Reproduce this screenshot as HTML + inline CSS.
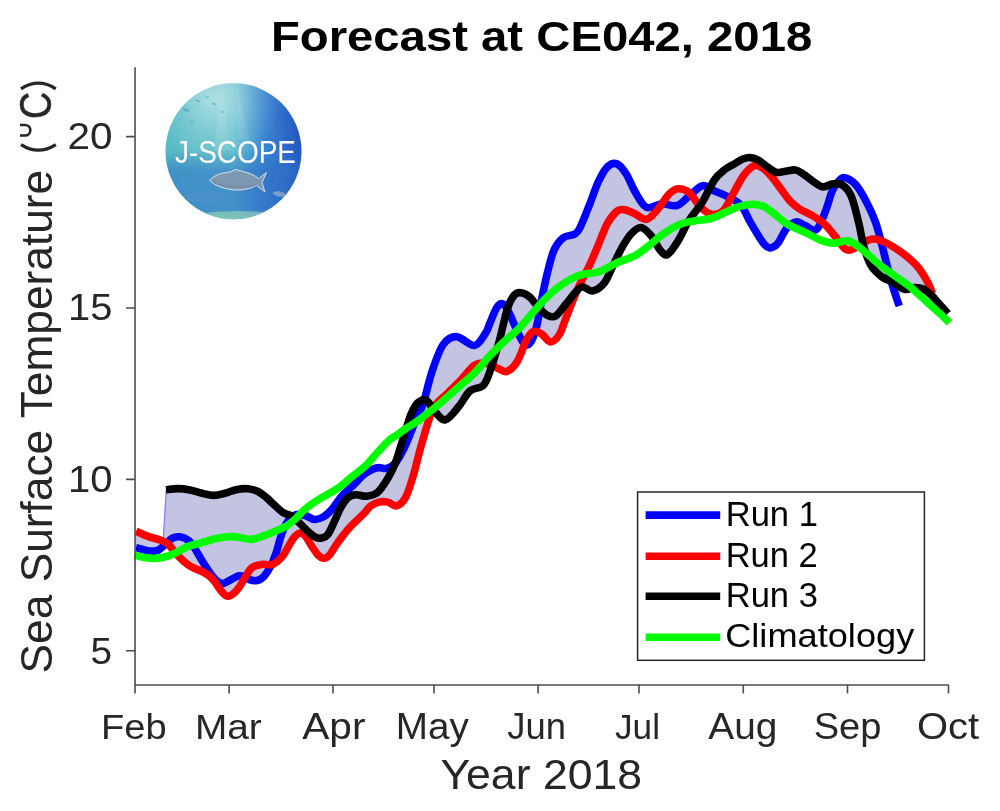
<!DOCTYPE html>
<html><head><meta charset="utf-8">
<style>
html,body{margin:0;padding:0;background:#fff;}
body{width:1000px;height:811px;overflow:hidden;}
svg{display:block;will-change:transform;}
text{font-family:"Liberation Sans", sans-serif;}
</style></head>
<body>
<svg width="1000" height="811" viewBox="0 0 1000 811">
<defs>
  <linearGradient id="lgBase" x1="165" y1="0" x2="302" y2="0" gradientUnits="userSpaceOnUse">
    <stop offset="0" stop-color="#56bac4"/>
    <stop offset="0.5" stop-color="#62c0cc"/>
    <stop offset="0.72" stop-color="#3a86d0"/>
    <stop offset="1" stop-color="#2354c2"/>
  </linearGradient>
  <radialGradient id="lgTop" cx="215" cy="98" r="66" gradientUnits="userSpaceOnUse">
    <stop offset="0" stop-color="#ffffff" stop-opacity="0.5"/>
    <stop offset="0.6" stop-color="#ffffff" stop-opacity="0.16"/>
    <stop offset="1" stop-color="#ffffff" stop-opacity="0"/>
  </radialGradient>
  <linearGradient id="lgBot" x1="0" y1="150" x2="0" y2="220" gradientUnits="userSpaceOnUse">
    <stop offset="0" stop-color="#2f6fc8" stop-opacity="0"/>
    <stop offset="0.3" stop-color="#2f6fc8" stop-opacity="0.55"/>
    <stop offset="0.85" stop-color="#2f70c8" stop-opacity="0.6"/>
    <stop offset="1" stop-color="#5aa8b0" stop-opacity="0.7"/>
  </linearGradient>
  <clipPath id="logoclip"><circle cx="233.5" cy="151.2" r="68"/></clipPath>
  <clipPath id="plotclip"><rect x="133" y="67" width="820" height="620"/></clipPath>
</defs>
<rect x="0" y="0" width="1000" height="811" fill="#fff"/>

<!-- title -->
<g transform="translate(274.20,51.10) scale(1.0004,0.9966) translate(-274.00,-51.10) translate(274.20,51.10) scale(1.0004,1.0320) translate(-275.00,-51.10) translate(274.20,51.10) scale(1.1811,1.0357) translate(-315.00,-51.00)"><text x="541.7" y="51" font-size="40" font-weight="bold" text-anchor="middle" fill="#000">Forecast at CE042, 2018</text></g>

<!-- logo -->
<g>
  <circle cx="233.5" cy="151.2" r="68" fill="url(#lgBase)"/>
  <circle cx="233.5" cy="151.2" r="68" fill="url(#lgTop)"/>
  <circle cx="233.5" cy="151.2" r="68" fill="url(#lgBot)"/>
  <g clip-path="url(#logoclip)">
    <path d="M222,80 L214,150 L230,150 Z" fill="#ffffff" opacity="0.10"/>
    <path d="M236,80 L238,140 L250,140 Z" fill="#ffffff" opacity="0.08"/>
    
    <ellipse cx="238" cy="216" rx="40" ry="5" fill="#9ad6b8" opacity="0.6"/>
    <ellipse cx="205" cy="197" rx="22" ry="5" fill="#6fa9cf" opacity="0.15"/>
    <g fill="#2f8f9a" opacity="0.45">
      <ellipse cx="186" cy="110" rx="3.5" ry="1.2" transform="rotate(20 186 110)"/>
      <ellipse cx="198" cy="101" rx="2.5" ry="0.9" transform="rotate(15 198 101)"/>
      <ellipse cx="207" cy="97" rx="2" ry="0.8"/>
      <ellipse cx="214" cy="104" rx="2.2" ry="0.8" transform="rotate(20 214 104)"/>
      <ellipse cx="192" cy="122" rx="2" ry="0.8"/>
      <ellipse cx="222" cy="112" rx="1.8" ry="0.7"/>
    </g>
    <g fill="none" stroke="#5f8fd8" stroke-width="0.8" opacity="0.3">
      <circle cx="272" cy="128" r="2.5"/><circle cx="280" cy="136" r="2"/><circle cx="266" cy="140" r="2.2"/>
      <circle cx="286" cy="172" r="2.5"/><circle cx="276" cy="178" r="2"/><circle cx="290" cy="160" r="1.8"/>
    </g>
  </g>
  <path d="M209.5,180.5 C213,176 220,173 230,172 L236,169.5 L243,171.5 C250,173 255,175.5 258.5,178.5 L266.5,172.5 L262,182.5 L265,192 L256.5,185.5 C252,188 246,190 238,190 C226,190 215,186 209.5,180.5Z" fill="#7f98b2" stroke="#dce8f0" stroke-width="0.9"/>
  <path d="M213,182 C225,187 243,188 256,185" fill="none" stroke="#6f88a2" stroke-width="2.2" opacity="0.55"/>
  <path d="M272,193 C277,190 283,191 287,195 C282,198 276,197 272,193Z" fill="#8fa8c4" opacity="0.8"/>
  <text x="235.4" y="163.3" font-size="31" fill="#fff" text-anchor="middle" textLength="121" lengthAdjust="spacingAndGlyphs">J-SCOPE</text>
</g>

<!-- fill -->
<g clip-path="url(#plotclip)">
<path d="M136.0,531.2 L137.0,531.6 L138.0,532.1 L139.0,532.6 L140.0,533.0 L141.0,533.5 L142.0,533.9 L143.0,534.4 L144.0,534.8 L145.0,535.2 L146.0,535.6 L147.0,536.0 L148.0,536.4 L149.0,536.8 L150.0,537.1 L151.0,537.4 L152.0,537.7 L153.0,537.9 L154.0,538.2 L155.0,538.5 L156.0,538.7 L157.0,539.0 L158.0,539.3 L159.0,539.6 L160.0,540.0 L161.0,540.4 L162.0,540.7 L163.0,541.1 L163.2,541.2 L166.0,489.8 L167.0,489.7 L168.0,489.5 L169.0,489.4 L170.0,489.3 L171.0,489.1 L172.0,489.0 L173.0,488.9 L174.0,488.8 L175.0,488.7 L176.0,488.7 L177.0,488.6 L178.0,488.6 L179.0,488.6 L180.0,488.7 L181.0,488.7 L182.0,488.8 L183.0,488.9 L184.0,489.0 L185.0,489.2 L186.0,489.3 L187.0,489.5 L188.0,489.6 L189.0,489.8 L190.0,490.0 L191.0,490.2 L192.0,490.5 L193.0,490.7 L194.0,491.0 L195.0,491.3 L196.0,491.6 L197.0,491.9 L198.0,492.2 L199.0,492.5 L200.0,492.8 L201.0,493.1 L202.0,493.3 L203.0,493.5 L204.0,493.8 L205.0,494.0 L206.0,494.3 L207.0,494.5 L208.0,494.7 L209.0,494.9 L210.0,495.1 L211.0,495.2 L212.0,495.3 L213.0,495.4 L214.0,495.4 L215.0,495.4 L216.0,495.3 L217.0,495.1 L218.0,495.0 L219.0,494.8 L220.0,494.5 L221.0,494.3 L222.0,494.0 L223.0,493.7 L224.0,493.5 L225.0,493.2 L226.0,492.9 L227.0,492.6 L228.0,492.3 L229.0,491.9 L230.0,491.6 L231.0,491.2 L232.0,490.8 L233.0,490.5 L234.0,490.2 L235.0,489.9 L236.0,489.6 L237.0,489.4 L238.0,489.2 L239.0,489.1 L240.0,488.9 L241.0,488.8 L242.0,488.7 L243.0,488.7 L244.0,488.6 L245.0,488.6 L246.0,488.7 L247.0,488.7 L248.0,488.8 L249.0,488.9 L250.0,489.1 L251.0,489.2 L252.0,489.4 L253.0,489.7 L254.0,490.0 L255.0,490.3 L256.0,490.6 L257.0,491.0 L258.0,491.5 L259.0,492.0 L260.0,492.6 L261.0,493.2 L262.0,493.9 L263.0,494.7 L264.0,495.5 L265.0,496.3 L266.0,497.2 L267.0,498.0 L268.0,498.9 L269.0,499.8 L270.0,500.8 L271.0,501.7 L272.0,502.7 L273.0,503.6 L274.0,504.6 L275.0,505.5 L276.0,506.5 L277.0,507.4 L278.0,508.3 L279.0,509.3 L280.0,510.1 L281.0,511.0 L282.0,511.8 L283.0,512.5 L284.0,513.2 L285.0,513.7 L286.0,514.1 L287.0,514.4 L288.0,514.6 L289.0,514.9 L290.0,515.2 L291.0,515.8 L292.0,516.5 L293.0,516.0 L294.0,515.4 L295.0,514.9 L296.0,514.5 L297.0,514.3 L298.0,514.2 L299.0,514.2 L300.0,514.3 L301.0,514.5 L302.0,514.7 L303.0,515.0 L304.0,515.3 L305.0,515.6 L306.0,515.9 L307.0,516.2 L308.0,516.7 L309.0,517.2 L310.0,517.8 L311.0,518.3 L312.0,518.8 L313.0,519.2 L314.0,519.4 L315.0,519.5 L316.0,519.5 L317.0,519.4 L318.0,519.2 L319.0,518.9 L320.0,518.5 L321.0,518.1 L322.0,517.6 L323.0,517.1 L324.0,516.5 L325.0,515.8 L326.0,515.0 L327.0,514.2 L328.0,513.4 L329.0,512.4 L330.0,511.4 L331.0,510.4 L332.0,509.3 L333.0,508.0 L334.0,506.7 L335.0,505.2 L336.0,503.8 L337.0,502.3 L338.0,500.8 L339.0,499.5 L340.0,498.2 L341.0,497.0 L342.0,495.9 L343.0,494.9 L344.0,493.9 L345.0,492.9 L346.0,492.0 L347.0,491.0 L348.0,490.1 L349.0,489.2 L350.0,488.3 L351.0,487.4 L352.0,486.5 L353.0,485.5 L354.0,484.5 L355.0,483.5 L356.0,482.4 L357.0,481.4 L358.0,480.3 L359.0,479.2 L360.0,478.2 L361.0,477.2 L362.0,476.3 L363.0,475.4 L364.0,474.5 L365.0,473.8 L366.0,473.1 L367.0,472.4 L368.0,471.8 L369.0,471.2 L370.0,470.6 L371.0,470.1 L372.0,469.6 L373.0,469.2 L374.0,468.8 L375.0,468.4 L376.0,468.1 L377.0,467.8 L378.0,467.6 L379.0,467.6 L380.0,467.6 L381.0,467.8 L382.0,468.0 L383.0,468.2 L384.0,468.4 L385.0,468.6 L386.0,468.5 L387.0,468.4 L388.0,468.1 L389.0,467.8 L390.0,467.4 L391.0,466.9 L392.0,466.2 L393.0,465.5 L394.0,464.6 L395.0,463.6 L396.0,461.1 L397.0,458.2 L398.0,455.1 L399.0,451.9 L400.0,448.7 L401.0,445.5 L402.0,442.2 L403.0,438.9 L404.0,435.6 L405.0,432.3 L406.0,429.2 L407.0,426.0 L408.0,422.8 L409.0,419.7 L410.0,416.8 L411.0,414.3 L412.0,412.1 L413.0,410.0 L414.0,408.1 L415.0,406.4 L416.0,404.9 L417.0,403.7 L418.0,402.7 L419.0,401.9 L420.0,401.2 L421.0,400.7 L422.0,400.3 L423.0,400.0 L424.0,399.9 L425.0,397.3 L426.0,393.4 L427.0,389.5 L428.0,385.7 L429.0,381.9 L430.0,378.2 L431.0,374.8 L432.0,371.6 L433.0,368.6 L434.0,365.7 L435.0,362.8 L436.0,360.0 L437.0,357.4 L438.0,354.8 L439.0,352.4 L440.0,350.2 L441.0,348.2 L442.0,346.4 L443.0,344.8 L444.0,343.4 L445.0,342.2 L446.0,341.1 L447.0,340.1 L448.0,339.3 L449.0,338.6 L450.0,338.0 L451.0,337.6 L452.0,337.2 L453.0,336.9 L454.0,336.7 L455.0,336.6 L456.0,336.6 L457.0,336.6 L458.0,336.8 L459.0,337.2 L460.0,337.7 L461.0,338.2 L462.0,338.8 L463.0,339.5 L464.0,340.2 L465.0,340.9 L466.0,341.6 L467.0,342.3 L468.0,343.0 L469.0,343.6 L470.0,344.2 L471.0,344.7 L472.0,345.2 L473.0,345.4 L474.0,345.5 L475.0,345.4 L476.0,345.0 L477.0,344.4 L478.0,343.6 L479.0,342.6 L480.0,341.5 L481.0,340.1 L482.0,338.7 L483.0,337.1 L484.0,335.5 L485.0,333.9 L486.0,332.4 L487.0,330.6 L488.0,328.2 L489.0,325.4 L490.0,322.9 L491.0,320.5 L492.0,318.1 L493.0,315.6 L494.0,313.2 L495.0,310.9 L496.0,308.9 L497.0,307.3 L498.0,305.9 L499.0,304.9 L500.0,304.1 L501.0,303.7 L502.0,303.6 L503.0,303.9 L504.0,304.6 L505.0,305.6 L506.0,307.1 L507.0,308.8 L508.0,307.0 L509.0,304.3 L510.0,302.0 L511.0,300.0 L512.0,298.3 L513.0,296.8 L514.0,295.5 L515.0,294.4 L516.0,293.6 L517.0,293.1 L518.0,292.7 L519.0,292.6 L520.0,292.6 L521.0,292.7 L522.0,292.8 L523.0,293.1 L524.0,293.5 L525.0,293.9 L526.0,294.4 L527.0,295.0 L528.0,295.7 L529.0,296.4 L530.0,297.3 L531.0,298.3 L532.0,299.4 L533.0,300.6 L534.0,301.9 L535.0,303.2 L536.0,304.6 L537.0,305.8 L538.0,307.0 L539.0,308.0 L540.0,308.8 L541.0,303.0 L542.0,297.7 L543.0,292.7 L544.0,287.8 L545.0,283.1 L546.0,278.6 L547.0,274.5 L548.0,270.4 L549.0,266.4 L550.0,262.4 L551.0,258.8 L552.0,255.5 L553.0,252.6 L554.0,250.2 L555.0,248.1 L556.0,246.3 L557.0,244.6 L558.0,243.2 L559.0,241.9 L560.0,240.8 L561.0,239.7 L562.0,238.8 L563.0,237.9 L564.0,237.2 L565.0,236.7 L566.0,236.3 L567.0,236.0 L568.0,235.8 L569.0,235.6 L570.0,235.5 L571.0,235.3 L572.0,235.2 L573.0,234.9 L574.0,234.5 L575.0,233.9 L576.0,233.3 L577.0,232.5 L578.0,231.3 L579.0,229.6 L580.0,227.7 L581.0,225.6 L582.0,223.4 L583.0,221.0 L584.0,218.6 L585.0,216.1 L586.0,213.6 L587.0,211.1 L588.0,208.5 L589.0,206.0 L590.0,203.5 L591.0,200.8 L592.0,198.1 L593.0,195.3 L594.0,192.6 L595.0,189.9 L596.0,187.3 L597.0,184.8 L598.0,182.5 L599.0,180.4 L600.0,178.3 L601.0,176.4 L602.0,174.6 L603.0,172.8 L604.0,171.2 L605.0,169.8 L606.0,168.5 L607.0,167.3 L608.0,166.3 L609.0,165.5 L610.0,164.8 L611.0,164.2 L612.0,163.8 L613.0,163.5 L614.0,163.4 L615.0,163.4 L616.0,163.6 L617.0,163.9 L618.0,164.4 L619.0,165.1 L620.0,165.9 L621.0,167.0 L622.0,168.1 L623.0,169.4 L624.0,170.7 L625.0,172.2 L626.0,173.7 L627.0,175.3 L628.0,177.2 L629.0,179.2 L630.0,181.4 L631.0,183.5 L632.0,185.7 L633.0,187.8 L634.0,189.8 L635.0,191.7 L636.0,193.3 L637.0,195.0 L638.0,196.8 L639.0,198.5 L640.0,200.2 L641.0,201.8 L642.0,203.2 L643.0,204.4 L644.0,205.5 L645.0,206.4 L646.0,207.0 L647.0,207.4 L648.0,207.7 L649.0,207.7 L650.0,207.6 L651.0,207.4 L652.0,207.1 L653.0,206.8 L654.0,206.4 L655.0,206.0 L656.0,205.6 L657.0,205.2 L658.0,204.8 L659.0,204.4 L660.0,204.1 L661.0,203.9 L662.0,203.5 L663.0,202.1 L664.0,200.6 L665.0,199.2 L666.0,197.8 L667.0,196.5 L668.0,195.3 L669.0,194.2 L670.0,193.2 L671.0,192.3 L672.0,191.5 L673.0,190.7 L674.0,190.1 L675.0,189.6 L676.0,189.2 L677.0,188.9 L678.0,188.8 L679.0,188.7 L680.0,188.8 L681.0,188.9 L682.0,189.0 L683.0,189.3 L684.0,189.6 L685.0,190.0 L686.0,190.4 L687.0,191.0 L688.0,191.7 L689.0,192.4 L690.0,193.3 L691.0,194.4 L692.0,193.5 L693.0,192.6 L694.0,191.6 L695.0,190.7 L696.0,189.8 L697.0,188.9 L698.0,188.1 L699.0,187.3 L700.0,186.7 L701.0,186.2 L702.0,185.8 L703.0,185.6 L704.0,185.6 L705.0,185.8 L706.0,186.1 L707.0,186.5 L708.0,187.0 L709.0,187.6 L710.0,187.7 L711.0,185.7 L712.0,183.8 L713.0,182.1 L714.0,180.4 L715.0,179.0 L716.0,177.7 L717.0,176.5 L718.0,175.4 L719.0,174.4 L720.0,173.4 L721.0,172.6 L722.0,171.7 L723.0,171.0 L724.0,170.2 L725.0,169.4 L726.0,168.6 L727.0,168.0 L728.0,167.3 L729.0,166.8 L730.0,166.2 L731.0,165.7 L732.0,165.2 L733.0,164.7 L734.0,164.1 L735.0,163.5 L736.0,162.9 L737.0,162.3 L738.0,161.6 L739.0,161.0 L740.0,160.4 L741.0,159.8 L742.0,159.3 L743.0,158.9 L744.0,158.6 L745.0,158.2 L746.0,158.0 L747.0,157.8 L748.0,157.6 L749.0,157.6 L750.0,157.5 L751.0,157.6 L752.0,157.7 L753.0,158.0 L754.0,158.2 L755.0,158.6 L756.0,159.0 L757.0,159.4 L758.0,160.0 L759.0,160.5 L760.0,161.1 L761.0,161.8 L762.0,162.6 L763.0,163.4 L764.0,164.2 L765.0,165.0 L766.0,165.8 L767.0,166.6 L768.0,167.3 L769.0,168.0 L770.0,168.7 L771.0,169.4 L772.0,170.1 L773.0,170.8 L774.0,171.4 L775.0,171.8 L776.0,172.2 L777.0,172.4 L778.0,172.5 L779.0,172.5 L780.0,172.4 L781.0,172.2 L782.0,172.0 L783.0,171.8 L784.0,171.5 L785.0,171.3 L786.0,171.1 L787.0,170.9 L788.0,170.8 L789.0,170.6 L790.0,170.4 L791.0,170.2 L792.0,170.0 L793.0,169.9 L794.0,169.9 L795.0,169.9 L796.0,170.1 L797.0,170.4 L798.0,170.8 L799.0,171.3 L800.0,171.9 L801.0,172.6 L802.0,173.3 L803.0,174.0 L804.0,174.6 L805.0,175.3 L806.0,176.0 L807.0,176.7 L808.0,177.5 L809.0,178.2 L810.0,179.0 L811.0,179.8 L812.0,180.5 L813.0,181.3 L814.0,182.1 L815.0,182.8 L816.0,183.5 L817.0,184.2 L818.0,184.8 L819.0,185.4 L820.0,186.0 L821.0,186.4 L822.0,186.7 L823.0,186.9 L824.0,186.9 L825.0,186.8 L826.0,186.4 L827.0,186.0 L828.0,185.5 L829.0,185.0 L830.0,184.5 L831.0,184.2 L832.0,184.0 L833.0,183.9 L834.0,183.8 L835.0,183.7 L836.0,183.6 L837.0,183.1 L838.0,182.0 L839.0,180.8 L840.0,179.7 L841.0,178.7 L842.0,178.1 L843.0,177.7 L844.0,177.7 L845.0,177.8 L846.0,178.0 L847.0,178.4 L848.0,178.8 L849.0,179.3 L850.0,179.9 L851.0,180.5 L852.0,181.2 L853.0,182.0 L854.0,182.9 L855.0,183.9 L856.0,185.0 L857.0,186.2 L858.0,187.6 L859.0,189.0 L860.0,190.5 L861.0,192.2 L862.0,193.8 L863.0,195.6 L864.0,197.4 L865.0,199.2 L866.0,201.1 L867.0,203.0 L868.0,204.9 L869.0,206.9 L870.0,209.0 L871.0,211.1 L872.0,213.3 L873.0,215.7 L874.0,218.1 L875.0,220.7 L876.0,223.5 L877.0,226.6 L878.0,230.0 L879.0,233.7 L880.0,237.5 L881.0,240.7 L882.0,241.1 L883.0,241.6 L884.0,242.0 L885.0,242.5 L886.0,242.9 L887.0,243.4 L888.0,243.9 L889.0,244.4 L890.0,245.0 L891.0,245.5 L892.0,246.0 L893.0,246.6 L894.0,247.2 L895.0,247.8 L896.0,248.4 L897.0,249.1 L898.0,249.8 L899.0,250.5 L900.0,251.2 L901.0,251.9 L902.0,252.7 L903.0,253.5 L904.0,254.3 L905.0,255.0 L906.0,255.8 L907.0,256.6 L908.0,257.5 L909.0,258.3 L910.0,259.2 L911.0,260.1 L912.0,261.0 L913.0,261.9 L914.0,262.9 L915.0,263.9 L916.0,264.9 L917.0,266.0 L918.0,267.2 L919.0,268.5 L920.0,269.8 L921.0,271.2 L922.0,272.7 L923.0,274.2 L924.0,275.8 L925.0,277.5 L926.0,279.2 L927.0,281.1 L928.0,283.0 L929.0,285.0 L930.0,287.1 L931.0,289.5 L932.0,292.2 L932.0,295.7 L931.0,294.7 L930.0,293.8 L929.0,293.0 L928.0,292.1 L927.0,291.3 L926.0,290.6 L925.0,290.0 L924.0,289.4 L923.0,288.9 L922.0,288.5 L921.0,288.2 L920.0,287.9 L919.0,287.7 L918.0,287.6 L917.0,287.5 L916.0,287.5 L915.0,287.5 L914.0,287.5 L913.0,287.7 L912.0,288.0 L911.0,288.3 L910.0,288.7 L909.0,289.0 L908.0,289.3 L907.0,289.5 L906.0,289.5 L905.0,289.4 L904.0,289.1 L903.0,288.7 L902.0,288.2 L901.0,287.6 L900.0,287.0 L899.0,305.2 L898.0,302.3 L897.0,299.4 L896.0,296.5 L895.0,293.5 L894.0,290.5 L893.0,287.4 L892.0,284.0 L891.0,281.3 L890.0,280.8 L889.0,280.5 L888.0,280.1 L887.0,279.7 L886.0,279.4 L885.0,278.9 L884.0,278.3 L883.0,277.7 L882.0,276.9 L881.0,276.2 L880.0,275.4 L879.0,274.6 L878.0,273.7 L877.0,272.8 L876.0,271.8 L875.0,270.8 L874.0,269.7 L873.0,268.5 L872.0,267.1 L871.0,265.5 L870.0,263.7 L869.0,261.6 L868.0,259.3 L867.0,256.8 L866.0,253.9 L865.0,250.8 L864.0,247.5 L863.0,243.6 L862.0,243.9 L861.0,244.5 L860.0,245.2 L859.0,245.9 L858.0,246.5 L857.0,247.0 L856.0,247.5 L855.0,248.0 L854.0,248.4 L853.0,249.0 L852.0,249.4 L851.0,249.9 L850.0,250.1 L849.0,250.3 L848.0,250.2 L847.0,250.0 L846.0,249.5 L845.0,248.8 L844.0,247.9 L843.0,246.9 L842.0,245.7 L841.0,244.4 L840.0,243.1 L839.0,241.7 L838.0,240.3 L837.0,239.0 L836.0,237.6 L835.0,236.2 L834.0,235.0 L833.0,233.8 L832.0,232.6 L831.0,231.3 L830.0,230.0 L829.0,228.8 L828.0,227.7 L827.0,226.6 L826.0,225.5 L825.0,224.6 L824.0,223.7 L823.0,222.9 L822.0,222.1 L821.0,222.5 L820.0,224.6 L819.0,226.5 L818.0,228.0 L817.0,229.1 L816.0,229.9 L815.0,230.2 L814.0,230.2 L813.0,230.0 L812.0,229.6 L811.0,229.1 L810.0,228.6 L809.0,227.9 L808.0,227.3 L807.0,226.6 L806.0,226.1 L805.0,225.6 L804.0,225.2 L803.0,224.7 L802.0,224.1 L801.0,223.5 L800.0,222.9 L799.0,222.4 L798.0,222.1 L797.0,221.9 L796.0,221.9 L795.0,222.1 L794.0,222.4 L793.0,222.8 L792.0,223.4 L791.0,224.1 L790.0,224.9 L789.0,225.8 L788.0,226.8 L787.0,227.9 L786.0,229.2 L785.0,230.8 L784.0,232.5 L783.0,234.2 L782.0,236.1 L781.0,238.0 L780.0,239.8 L779.0,241.5 L778.0,243.0 L777.0,244.3 L776.0,245.3 L775.0,246.0 L774.0,246.5 L773.0,247.1 L772.0,247.5 L771.0,247.8 L770.0,247.9 L769.0,247.7 L768.0,247.2 L767.0,246.6 L766.0,245.9 L765.0,245.0 L764.0,244.0 L763.0,242.8 L762.0,241.5 L761.0,239.9 L760.0,238.3 L759.0,236.7 L758.0,235.1 L757.0,233.5 L756.0,231.9 L755.0,230.2 L754.0,228.5 L753.0,226.9 L752.0,225.2 L751.0,223.5 L750.0,221.7 L749.0,219.8 L748.0,217.8 L747.0,215.6 L746.0,213.5 L745.0,211.5 L744.0,209.6 L743.0,208.0 L742.0,206.6 L741.0,205.4 L740.0,204.3 L739.0,203.5 L738.0,202.7 L737.0,201.9 L736.0,201.3 L735.0,200.7 L734.0,200.1 L733.0,199.5 L732.0,199.0 L731.0,198.4 L730.0,199.7 L729.0,201.7 L728.0,203.6 L727.0,205.4 L726.0,207.1 L725.0,208.5 L724.0,209.8 L723.0,210.9 L722.0,211.8 L721.0,212.5 L720.0,213.0 L719.0,213.5 L718.0,213.8 L717.0,214.1 L716.0,214.3 L715.0,214.4 L714.0,214.4 L713.0,214.4 L712.0,214.3 L711.0,214.2 L710.0,214.0 L709.0,213.6 L708.0,213.2 L707.0,212.6 L706.0,212.0 L705.0,211.2 L704.0,210.4 L703.0,209.5 L702.0,208.6 L701.0,207.6 L700.0,206.6 L699.0,207.0 L698.0,208.4 L697.0,209.6 L696.0,210.9 L695.0,212.2 L694.0,213.4 L693.0,214.7 L692.0,216.1 L691.0,217.5 L690.0,218.9 L689.0,220.5 L688.0,222.1 L687.0,223.9 L686.0,225.8 L685.0,227.7 L684.0,229.7 L683.0,231.7 L682.0,233.7 L681.0,235.7 L680.0,237.6 L679.0,239.3 L678.0,241.0 L677.0,242.6 L676.0,244.2 L675.0,245.7 L674.0,247.2 L673.0,248.7 L672.0,250.0 L671.0,251.3 L670.0,252.5 L669.0,253.4 L668.0,254.2 L667.0,254.7 L666.0,254.9 L665.0,254.8 L664.0,254.3 L663.0,253.4 L662.0,252.4 L661.0,251.2 L660.0,250.0 L659.0,248.7 L658.0,247.1 L657.0,245.4 L656.0,243.6 L655.0,241.8 L654.0,240.0 L653.0,238.3 L652.0,236.8 L651.0,235.5 L650.0,234.3 L649.0,233.2 L648.0,232.1 L647.0,231.1 L646.0,230.1 L645.0,229.3 L644.0,228.6 L643.0,228.1 L642.0,227.7 L641.0,227.5 L640.0,227.5 L639.0,227.8 L638.0,228.2 L637.0,228.7 L636.0,229.4 L635.0,230.1 L634.0,231.0 L633.0,232.0 L632.0,233.0 L631.0,234.0 L630.0,235.1 L629.0,236.3 L628.0,237.7 L627.0,239.1 L626.0,240.7 L625.0,242.3 L624.0,244.0 L623.0,245.7 L622.0,247.5 L621.0,249.3 L620.0,251.2 L619.0,253.2 L618.0,255.3 L617.0,257.4 L616.0,259.5 L615.0,261.6 L614.0,263.7 L613.0,265.7 L612.0,267.8 L611.0,270.1 L610.0,272.4 L609.0,274.6 L608.0,276.8 L607.0,278.7 L606.0,280.5 L605.0,282.0 L604.0,283.3 L603.0,284.4 L602.0,285.4 L601.0,286.4 L600.0,287.2 L599.0,288.0 L598.0,288.7 L597.0,289.3 L596.0,289.8 L595.0,290.2 L594.0,290.6 L593.0,290.9 L592.0,291.1 L591.0,291.0 L590.0,290.6 L589.0,290.1 L588.0,289.5 L587.0,288.8 L586.0,288.1 L585.0,287.5 L584.0,287.1 L583.0,286.9 L582.0,286.9 L581.0,287.2 L580.0,287.7 L579.0,288.4 L578.0,289.3 L577.0,290.6 L576.0,293.0 L575.0,295.4 L574.0,297.8 L573.0,300.3 L572.0,302.8 L571.0,305.4 L570.0,307.9 L569.0,310.5 L568.0,313.0 L567.0,315.5 L566.0,318.1 L565.0,320.6 L564.0,323.3 L563.0,326.1 L562.0,328.9 L561.0,331.4 L560.0,333.5 L559.0,335.2 L558.0,336.6 L557.0,337.8 L556.0,338.9 L555.0,339.9 L554.0,340.6 L553.0,341.3 L552.0,341.7 L551.0,341.9 L550.0,341.8 L549.0,341.4 L548.0,340.6 L547.0,339.6 L546.0,338.5 L545.0,337.3 L544.0,336.1 L543.0,335.0 L542.0,334.2 L541.0,333.6 L540.0,333.0 L539.0,332.5 L538.0,332.0 L537.0,331.6 L536.0,331.4 L535.0,331.9 L534.0,334.8 L533.0,337.5 L532.0,339.8 L531.0,341.7 L530.0,343.2 L529.0,344.3 L528.0,344.8 L527.0,344.9 L526.0,344.6 L525.0,344.0 L524.0,345.5 L523.0,348.2 L522.0,350.9 L521.0,353.5 L520.0,356.0 L519.0,358.3 L518.0,360.2 L517.0,361.9 L516.0,363.3 L515.0,364.7 L514.0,365.9 L513.0,367.0 L512.0,368.0 L511.0,368.9 L510.0,369.7 L509.0,370.4 L508.0,371.0 L507.0,371.4 L506.0,371.6 L505.0,371.6 L504.0,371.4 L503.0,370.9 L502.0,370.4 L501.0,369.8 L500.0,369.3 L499.0,368.9 L498.0,368.5 L497.0,368.0 L496.0,367.6 L495.0,367.1 L494.0,366.6 L493.0,366.1 L492.0,365.6 L491.0,368.5 L490.0,371.3 L489.0,374.1 L488.0,376.9 L487.0,379.5 L486.0,381.6 L485.0,383.3 L484.0,384.6 L483.0,385.6 L482.0,386.3 L481.0,386.9 L480.0,387.3 L479.0,387.6 L478.0,387.8 L477.0,388.1 L476.0,388.3 L475.0,388.6 L474.0,388.8 L473.0,389.2 L472.0,389.6 L471.0,390.2 L470.0,390.9 L469.0,391.9 L468.0,393.0 L467.0,394.3 L466.0,395.7 L465.0,397.2 L464.0,398.8 L463.0,400.5 L462.0,402.0 L461.0,403.6 L460.0,405.0 L459.0,406.3 L458.0,407.5 L457.0,408.7 L456.0,409.9 L455.0,411.2 L454.0,412.4 L453.0,413.6 L452.0,414.7 L451.0,415.8 L450.0,416.8 L449.0,417.7 L448.0,418.5 L447.0,419.2 L446.0,419.7 L445.0,419.9 L444.0,419.8 L443.0,419.5 L442.0,419.0 L441.0,418.3 L440.0,417.3 L439.0,416.3 L438.0,415.1 L437.0,413.9 L436.0,412.8 L435.0,411.7 L434.0,410.5 L433.0,409.2 L432.0,411.0 L431.0,413.5 L430.0,416.4 L429.0,419.6 L428.0,422.8 L427.0,425.8 L426.0,429.0 L425.0,432.3 L424.0,435.7 L423.0,439.2 L422.0,442.7 L421.0,446.3 L420.0,449.9 L419.0,453.7 L418.0,457.6 L417.0,461.5 L416.0,465.5 L415.0,469.4 L414.0,473.1 L413.0,476.6 L412.0,479.9 L411.0,483.2 L410.0,486.3 L409.0,489.4 L408.0,492.1 L407.0,494.6 L406.0,496.7 L405.0,498.5 L404.0,500.0 L403.0,501.3 L402.0,502.4 L401.0,503.4 L400.0,504.1 L399.0,504.8 L398.0,505.3 L397.0,505.7 L396.0,505.9 L395.0,505.8 L394.0,505.5 L393.0,505.0 L392.0,504.4 L391.0,503.7 L390.0,503.1 L389.0,502.6 L388.0,502.2 L387.0,502.0 L386.0,501.8 L385.0,501.7 L384.0,501.6 L383.0,501.6 L382.0,501.6 L381.0,501.7 L380.0,501.9 L379.0,502.1 L378.0,502.4 L377.0,502.7 L376.0,503.1 L375.0,503.5 L374.0,504.0 L373.0,504.5 L372.0,505.1 L371.0,505.8 L370.0,506.5 L369.0,507.4 L368.0,508.5 L367.0,509.9 L366.0,511.3 L365.0,512.5 L364.0,513.5 L363.0,514.5 L362.0,515.5 L361.0,516.4 L360.0,517.4 L359.0,518.3 L358.0,519.2 L357.0,520.2 L356.0,521.1 L355.0,522.1 L354.0,523.0 L353.0,524.0 L352.0,525.0 L351.0,526.0 L350.0,527.1 L349.0,528.2 L348.0,529.3 L347.0,530.5 L346.0,531.8 L345.0,533.0 L344.0,534.3 L343.0,535.6 L342.0,536.9 L341.0,538.2 L340.0,539.5 L339.0,540.9 L338.0,542.3 L337.0,543.7 L336.0,545.1 L335.0,546.7 L334.0,548.3 L333.0,549.9 L332.0,551.5 L331.0,553.0 L330.0,554.4 L329.0,555.5 L328.0,556.5 L327.0,557.3 L326.0,557.8 L325.0,558.2 L324.0,558.3 L323.0,558.2 L322.0,558.0 L321.0,557.5 L320.0,556.8 L319.0,556.0 L318.0,555.0 L317.0,553.8 L316.0,552.5 L315.0,551.1 L314.0,549.6 L313.0,548.1 L312.0,546.6 L311.0,545.0 L310.0,543.3 L309.0,541.6 L308.0,539.9 L307.0,538.3 L306.0,536.9 L305.0,535.8 L304.0,534.8 L303.0,534.0 L302.0,533.4 L301.0,533.1 L300.0,533.0 L299.0,533.3 L298.0,533.8 L297.0,534.5 L296.0,535.4 L295.0,536.4 L294.0,537.5 L293.0,538.9 L292.0,540.5 L291.0,542.1 L290.0,543.8 L289.0,545.5 L288.0,547.3 L287.0,549.1 L286.0,550.9 L285.0,552.7 L284.0,554.2 L283.0,555.6 L282.0,556.9 L281.0,558.0 L280.0,559.1 L279.0,560.1 L278.0,561.0 L277.0,561.8 L276.0,562.6 L275.0,563.2 L274.0,563.8 L273.0,564.3 L272.0,564.6 L271.0,565.6 L270.0,567.5 L269.0,569.3 L268.0,571.0 L267.0,572.5 L266.0,573.9 L265.0,575.2 L264.0,576.4 L263.0,577.4 L262.0,578.3 L261.0,579.0 L260.0,579.5 L259.0,580.0 L258.0,580.3 L257.0,580.5 L256.0,580.7 L255.0,580.7 L254.0,580.6 L253.0,580.5 L252.0,580.4 L251.0,580.2 L250.0,579.9 L249.0,579.6 L248.0,579.1 L247.0,578.4 L246.0,577.5 L245.0,577.2 L244.0,579.0 L243.0,580.9 L242.0,582.7 L241.0,584.4 L240.0,585.9 L239.0,587.4 L238.0,588.7 L237.0,590.0 L236.0,591.1 L235.0,592.2 L234.0,593.1 L233.0,593.9 L232.0,594.7 L231.0,595.4 L230.0,595.9 L229.0,596.2 L228.0,596.3 L227.0,596.1 L226.0,595.6 L225.0,594.9 L224.0,594.0 L223.0,592.9 L222.0,591.8 L221.0,590.7 L220.0,589.4 L219.0,587.9 L218.0,586.4 L217.0,584.9 L216.0,583.5 L215.0,582.2 L214.0,580.9 L213.0,579.6 L212.0,578.5 L211.0,577.4 L210.0,576.5 L209.0,575.7 L208.0,574.9 L207.0,574.3 L206.0,573.6 L205.0,573.1 L204.0,572.5 L203.0,572.0 L202.0,571.5 L201.0,571.1 L200.0,570.6 L199.0,570.2 L198.0,569.8 L197.0,569.4 L196.0,569.0 L195.0,568.6 L194.0,568.2 L193.0,567.7 L192.0,567.2 L191.0,566.6 L190.0,566.0 L189.0,565.4 L188.0,564.7 L187.0,564.0 L186.0,563.2 L185.0,562.4 L184.0,561.6 L183.0,560.7 L182.0,559.8 L181.0,558.8 L180.0,557.9 L179.0,556.8 L178.0,555.8 L177.0,554.7 L176.0,553.6 L175.0,552.4 L174.0,551.2 L173.0,549.9 L172.0,548.6 L171.0,547.3 L170.0,546.0 L169.0,544.9 L168.0,544.0 L167.0,543.2 L166.0,543.7 L163.2,546.3 L163.0,546.5 L162.0,547.4 L161.0,548.3 L160.0,549.2 L159.0,549.8 L158.0,550.3 L157.0,550.6 L156.0,550.8 L155.0,551.0 L154.0,551.1 L153.0,551.1 L152.0,551.1 L151.0,551.1 L150.0,551.0 L149.0,550.9 L148.0,550.8 L147.0,550.6 L146.0,550.4 L145.0,550.2 L144.0,550.0 L143.0,549.7 L142.0,549.4 L141.0,549.1 L140.0,548.8 L139.0,548.5 L138.0,548.2 L137.0,547.9 L136.0,547.6Z" fill="#c3c3e2" stroke="#b0b8ee" stroke-width="0.8"/>
<path d="M166.4,489.5 L163.2,540" stroke="#7a7aff" stroke-width="1.1" fill="none"/>
<g fill="none" stroke-width="7.6" stroke-linejoin="round" stroke-linecap="butt">
<path d="M136.0,547.6 C138.0,548.1 144.4,550.3 148.0,550.8 C151.6,551.3 154.9,551.3 157.6,550.4 C160.3,549.5 161.6,547.6 164.0,545.6 C166.4,543.6 169.3,539.9 172.0,538.4 C174.7,536.9 177.2,536.4 180.0,536.8 C182.8,537.2 186.4,538.9 188.8,540.8 C191.2,542.7 192.2,544.5 194.5,548.0 C196.8,551.5 199.5,556.8 202.5,561.5 C205.5,566.2 209.6,572.6 212.3,576.0 C215.0,579.4 216.7,580.9 218.5,582.1 C220.3,583.3 221.3,583.8 223.4,583.4 C225.5,583.0 228.3,580.9 230.8,579.7 C233.3,578.5 235.9,576.5 238.2,576.0 C240.5,575.5 242.6,576.0 244.4,576.6 C246.2,577.2 247.2,579.1 249.3,579.7 C251.4,580.4 254.8,581.0 257.2,580.5 C259.6,580.0 261.6,578.9 263.8,576.6 C266.0,574.3 268.5,570.5 270.5,566.6 C272.5,562.7 274.2,558.5 276.0,553.3 C277.8,548.1 279.3,540.7 281.2,535.5 C283.1,530.3 284.8,525.4 287.3,521.9 C289.8,518.4 292.9,515.5 296.0,514.5 C299.1,513.5 302.7,515.0 305.8,515.8 C308.9,516.6 311.6,519.3 314.5,519.5 C317.4,519.7 320.2,518.6 323.1,517.0 C326.0,515.4 328.7,512.9 331.7,509.6 C334.7,506.3 337.4,501.0 341.0,497.0 C344.6,493.0 349.1,489.3 353.0,485.5 C356.9,481.7 360.7,476.9 364.7,474.0 C368.7,471.1 373.3,468.7 377.0,467.8 C380.7,466.9 383.8,469.2 386.9,468.4 C390.0,467.6 392.6,466.5 395.5,463.0 C398.4,459.5 401.9,452.7 404.5,447.4 C407.1,442.1 409.1,436.8 411.3,431.2 C413.6,425.6 416.1,418.0 418.0,413.6 C419.9,409.2 420.4,412.1 422.8,405.0 C425.2,397.9 428.8,381.1 432.2,371.0 C435.6,360.9 439.2,350.1 443.3,344.4 C447.4,338.7 451.4,336.4 456.6,336.6 C461.8,336.8 469.5,346.1 474.3,345.5 C479.1,344.9 482.8,337.1 485.4,333.3 C488.0,329.5 488.1,327.2 490.0,322.9 C491.9,318.6 494.7,310.6 496.9,307.4 C499.1,304.2 501.0,303.0 503.0,303.9 C505.0,304.8 506.9,308.5 509.0,312.5 C511.1,316.5 513.6,323.2 515.9,328.1 C518.2,333.0 520.5,339.3 522.8,341.9 C525.1,344.5 527.4,346.2 529.7,343.6 C532.0,341.0 534.6,333.9 536.6,326.4 C538.6,318.9 540.1,307.3 541.8,298.7 C543.5,290.1 545.0,282.6 547.0,274.5 C549.0,266.4 551.2,256.5 553.9,250.4 C556.6,244.3 559.9,240.4 563.3,237.7 C566.7,235.0 571.6,236.0 574.4,234.3 C577.2,232.6 577.5,232.5 580.0,227.7 C582.5,222.9 586.1,213.2 589.2,205.5 C592.3,197.8 595.4,187.9 598.5,181.4 C601.6,174.9 604.6,169.5 607.7,166.6 C610.8,163.7 613.9,162.7 617.0,163.9 C620.1,165.1 623.1,169.2 626.2,174.0 C629.3,178.8 632.1,186.9 635.5,192.5 C638.9,198.1 642.2,205.4 646.6,207.3 C651.0,209.2 656.9,204.1 662.0,203.8 C667.1,203.5 672.5,206.8 677.0,205.5 C681.5,204.2 685.0,199.3 689.2,196.0 C693.4,192.7 698.2,186.5 702.4,185.7 C706.6,184.8 710.2,189.0 714.5,190.9 C718.8,192.8 723.8,194.5 728.3,197.0 C732.8,199.5 737.7,201.5 741.3,205.7 C744.9,209.8 747.1,216.7 750.1,221.9 C753.1,227.1 756.7,233.0 759.0,236.7 C761.3,240.4 762.3,242.2 764.0,244.0 C765.7,245.8 767.7,247.4 769.4,247.8 C771.1,248.2 772.5,247.4 774.0,246.5 C775.5,245.6 776.1,245.7 778.3,242.6 C780.5,239.5 784.1,231.2 787.1,227.8 C790.1,224.4 793.0,222.3 796.0,221.9 C799.0,221.5 801.6,224.3 805.0,225.6 C808.4,226.9 813.0,231.9 816.3,229.7 C819.6,227.5 822.4,218.8 825.0,212.5 C827.6,206.2 829.8,196.9 831.9,191.8 C834.0,186.8 835.7,184.5 837.8,182.2 C839.9,179.8 841.4,177.3 844.4,177.7 C847.4,178.1 851.8,180.3 855.5,184.4 C859.2,188.5 863.3,195.9 866.6,202.2 C869.9,208.5 873.0,215.1 875.5,222.1 C878.0,229.1 879.8,236.7 881.7,244.1 C883.7,251.5 885.4,259.2 887.2,266.3 C889.1,273.4 890.8,280.1 892.8,286.7 C894.8,293.3 898.2,302.9 899.3,306.1" stroke="#0000ff"/>
<path d="M136.0,531.2 C138.0,532.1 144.0,534.9 148.0,536.4 C152.0,537.9 156.7,538.7 160.0,540.0 C163.3,541.3 165.3,541.7 168.0,544.0 C170.7,546.3 173.3,550.7 176.0,553.6 C178.7,556.5 181.3,559.3 184.0,561.6 C186.7,563.9 188.8,565.5 192.0,567.2 C195.2,568.9 200.0,570.5 203.0,572.0 C206.0,573.5 207.9,574.7 210.0,576.5 C212.1,578.3 213.5,580.2 215.4,582.7 C217.3,585.2 219.6,589.1 221.6,591.4 C223.6,593.7 225.6,596.0 227.7,596.3 C229.8,596.6 231.8,595.0 233.9,593.2 C236.0,591.5 238.1,588.8 240.1,585.8 C242.1,582.8 244.1,578.4 246.2,575.3 C248.2,572.2 249.8,569.1 252.4,567.3 C255.0,565.5 258.2,564.9 261.6,564.4 C265.0,563.9 269.2,565.7 272.7,564.4 C276.2,563.1 279.5,559.8 282.4,556.4 C285.2,553.0 287.8,547.4 289.8,544.1 C291.9,540.8 292.9,538.6 294.7,536.7 C296.4,534.9 298.4,533.0 300.3,533.0 C302.2,533.0 303.9,534.4 305.8,536.7 C307.8,539.0 309.9,543.5 312.0,546.6 C314.1,549.7 316.2,553.2 318.2,555.2 C320.1,557.2 321.8,558.3 323.7,558.3 C325.6,558.3 327.1,557.6 329.3,555.2 C331.5,552.8 334.2,547.6 336.7,544.1 C339.1,540.6 341.6,537.4 344.0,534.3 C346.4,531.2 348.0,529.1 351.4,525.6 C354.8,522.1 361.2,516.4 364.3,513.2 C367.4,510.0 367.6,508.4 370.0,506.5 C372.4,504.6 375.9,502.8 378.9,502.1 C381.8,501.4 384.8,501.5 387.7,502.1 C390.6,502.7 393.6,506.6 396.6,505.8 C399.6,505.1 402.8,502.4 405.5,497.6 C408.2,492.8 410.4,485.0 412.9,476.9 C415.4,468.8 417.8,457.7 420.3,448.8 C422.8,439.9 425.4,430.8 427.7,423.7 C430.0,416.6 431.1,411.6 434.4,406.5 C437.7,401.4 443.3,397.6 447.7,393.2 C452.1,388.8 456.6,384.5 461.0,379.9 C465.4,375.3 470.2,368.3 474.3,365.5 C478.4,362.7 481.3,362.7 485.4,363.2 C489.4,363.7 495.0,367.3 498.6,368.7 C502.2,370.1 504.1,372.6 507.3,371.3 C510.5,370.0 514.4,366.1 517.6,360.9 C520.8,355.7 523.7,345.1 526.3,340.2 C528.9,335.3 530.6,332.5 533.2,331.5 C535.8,330.5 538.9,332.4 541.8,334.1 C544.7,335.8 547.5,341.8 550.4,341.9 C553.3,342.0 556.5,338.9 559.1,335.0 C561.7,331.1 562.8,326.0 565.9,318.3 C569.0,310.6 573.8,297.7 577.8,288.8 C581.8,279.9 586.1,272.5 589.6,265.1 C593.1,257.7 595.5,251.3 598.5,244.4 C601.5,237.5 604.3,229.1 607.3,223.7 C610.2,218.3 613.5,214.2 616.2,211.8 C618.9,209.5 620.6,209.3 623.6,209.6 C626.6,209.8 630.2,211.7 634.0,213.3 C637.8,214.9 642.6,220.0 646.6,219.3 C650.6,218.6 654.0,213.3 657.7,209.2 C661.4,205.0 665.4,197.8 668.8,194.4 C672.2,191.0 674.6,189.1 678.0,188.8 C681.4,188.5 685.3,189.4 689.1,192.5 C692.9,195.6 697.0,203.7 700.7,207.3 C704.4,210.9 707.4,213.6 711.1,214.2 C714.8,214.8 719.3,214.5 723.1,210.8 C726.9,207.2 730.4,198.3 733.9,192.3 C737.4,186.3 740.8,179.0 744.2,174.6 C747.7,170.2 751.4,166.7 754.6,165.7 C757.8,164.7 760.5,166.7 763.5,168.7 C766.5,170.7 769.3,174.1 772.3,177.5 C775.2,180.9 778.2,185.5 781.2,189.4 C784.2,193.3 787.1,198.0 790.1,201.2 C793.1,204.4 795.2,206.1 799.0,208.6 C802.8,211.1 808.6,213.2 812.9,215.9 C817.2,218.6 821.5,221.4 825.0,224.6 C828.5,227.8 830.5,230.8 834.0,235.0 C837.5,239.2 842.3,247.4 846.0,249.5 C849.7,251.6 852.4,249.0 856.0,247.5 C859.6,246.0 864.3,241.8 867.8,240.4 C871.3,239.1 872.9,238.4 877.0,239.4 C881.1,240.4 887.7,243.6 892.3,246.2 C896.9,248.8 900.8,251.7 904.7,254.8 C908.6,257.9 912.7,261.4 915.8,264.7 C918.9,268.0 921.0,271.0 923.2,274.5 C925.5,278.0 927.8,282.4 929.3,285.6 C930.8,288.8 932.0,292.2 932.5,293.5" stroke="#ff0000"/>
<path d="M166.0,489.8 C168.0,489.6 174.0,488.6 178.0,488.6 C182.0,488.6 186.0,489.2 190.0,490.0 C194.0,490.8 198.0,492.4 202.0,493.3 C206.0,494.2 210.0,495.4 213.8,495.4 C217.6,495.4 221.1,494.2 225.0,493.2 C228.9,492.2 233.2,490.1 237.0,489.4 C240.8,488.7 244.5,488.4 248.0,488.8 C251.5,489.2 254.9,490.0 258.0,491.5 C261.1,493.0 262.5,494.3 266.6,497.7 C270.7,501.1 278.3,509.1 282.4,512.1 C286.5,515.1 288.1,513.9 291.0,515.8 C293.9,517.6 296.8,520.5 299.7,523.2 C302.6,525.9 305.6,529.4 308.3,531.8 C311.0,534.1 313.4,536.3 315.7,537.3 C318.0,538.3 319.8,538.5 321.9,538.0 C323.9,537.5 325.9,537.0 328.0,534.3 C330.1,531.6 332.1,526.2 334.2,521.9 C336.3,517.6 338.1,512.4 340.4,508.4 C342.6,504.4 345.1,500.2 347.7,497.9 C350.3,495.6 352.9,495.1 356.0,494.8 C359.1,494.5 362.9,496.6 366.5,496.2 C370.1,495.8 374.0,495.3 377.6,492.3 C381.2,489.3 385.1,482.8 388.0,478.0 C390.9,473.2 392.9,468.8 395.0,463.7 C397.1,458.6 398.6,453.0 400.4,447.4 C402.2,441.8 404.0,435.4 405.8,429.8 C407.6,424.2 409.3,418.1 411.3,413.6 C413.3,409.1 415.5,404.9 418.0,402.7 C420.5,400.5 423.6,399.0 426.5,400.5 C429.4,402.0 431.9,408.6 435.1,411.8 C438.3,415.0 441.6,420.7 445.5,419.8 C449.4,418.9 454.7,411.3 458.8,406.5 C462.9,401.7 465.8,394.5 469.9,391.0 C474.0,387.5 479.8,388.7 483.2,385.4 C486.6,382.1 487.4,378.3 490.0,371.3 C492.6,364.3 495.7,354.0 498.6,343.6 C501.5,333.2 504.7,317.2 507.3,309.1 C509.9,301.1 511.9,298.0 514.2,295.3 C516.5,292.6 518.5,292.4 521.1,292.7 C523.7,293.0 526.8,294.6 529.7,297.0 C532.6,299.4 535.5,304.4 538.4,307.4 C541.3,310.4 544.1,313.7 547.0,315.1 C549.9,316.5 552.4,317.9 555.6,316.0 C558.8,314.1 561.8,308.8 566.0,304.0 C570.2,299.2 576.3,289.5 580.7,287.3 C585.1,285.1 588.5,291.8 592.5,291.0 C596.5,290.2 600.9,287.1 604.4,282.8 C607.9,278.5 610.3,271.0 613.3,265.1 C616.2,259.2 619.1,252.5 622.1,247.3 C625.1,242.1 627.9,237.3 631.0,234.0 C634.1,230.7 637.7,227.2 641.0,227.5 C644.3,227.8 647.8,231.8 651.0,235.5 C654.2,239.2 657.2,246.8 660.0,250.0 C662.8,253.2 664.5,256.0 667.5,254.5 C670.5,253.0 674.4,246.7 678.0,241.0 C681.6,235.3 685.0,226.8 689.1,220.3 C693.2,213.8 698.2,208.9 702.4,202.1 C706.6,195.3 710.7,185.1 714.5,179.7 C718.3,174.2 721.8,172.0 725.0,169.4 C728.2,166.8 730.9,165.9 733.9,164.2 C736.9,162.5 740.0,160.1 742.8,159.0 C745.6,157.9 748.2,157.3 750.9,157.6 C753.6,157.8 756.2,158.9 759.0,160.5 C761.8,162.1 764.9,165.2 767.9,167.2 C770.9,169.2 773.6,171.8 776.8,172.4 C780.0,173.0 783.9,171.3 787.1,170.9 C790.3,170.5 793.0,169.4 796.0,170.1 C799.0,170.8 800.8,172.6 805.0,175.3 C809.2,178.1 817.0,185.2 821.5,186.6 C826.0,188.0 828.5,184.3 831.9,184.0 C835.3,183.7 838.7,182.8 841.9,184.8 C845.1,186.8 848.3,189.7 851.1,195.9 C853.9,202.1 856.3,213.2 858.5,221.9 C860.7,230.6 861.9,240.4 864.1,247.8 C866.3,255.2 868.4,261.4 871.5,266.3 C874.6,271.2 879.1,274.8 882.6,277.4 C886.1,280.0 888.6,279.9 892.3,281.9 C896.0,283.9 901.0,288.4 904.7,289.3 C908.4,290.2 911.4,287.6 914.5,287.5 C917.6,287.4 920.3,287.7 923.2,289.0 C926.1,290.3 928.9,292.8 931.8,295.5 C934.7,298.2 937.7,302.4 940.4,305.4 C943.1,308.4 946.7,312.1 948.0,313.5" stroke="#000000"/>
<path d="M134.4,555.2 C136.0,555.6 140.4,557.1 144.0,557.6 C147.6,558.1 152.0,558.7 156.0,558.4 C160.0,558.1 164.7,556.9 168.0,556.0 C171.3,555.1 172.7,554.4 176.0,552.8 C179.3,551.2 184.0,548.0 188.0,546.4 C192.0,544.8 195.1,544.6 200.0,543.2 C204.9,541.9 211.6,539.4 217.2,538.3 C222.8,537.2 228.2,536.4 233.8,536.6 C239.4,536.8 245.9,539.4 250.5,539.4 C255.1,539.4 257.9,537.8 261.6,536.6 C265.3,535.4 268.8,533.8 272.7,532.2 C276.6,530.6 281.2,529.0 284.9,526.9 C288.6,524.8 291.4,522.4 294.7,519.5 C298.0,516.6 301.3,512.5 304.6,509.6 C307.9,506.7 310.8,504.7 314.5,502.2 C318.2,499.7 322.7,497.3 326.8,494.8 C330.9,492.3 334.9,490.5 339.1,487.4 C343.4,484.3 348.0,479.9 352.3,476.4 C356.6,472.9 360.6,470.5 364.7,466.6 C368.8,462.7 372.9,457.4 377.0,453.0 C381.1,448.6 386.0,443.0 389.3,440.0 C392.6,437.0 394.2,436.9 397.0,435.0 C399.8,433.1 402.5,430.7 405.8,428.5 C409.1,426.3 412.9,424.4 416.7,421.7 C420.5,419.0 425.2,415.1 428.9,412.2 C432.6,409.3 434.2,408.2 438.8,404.3 C443.4,400.4 450.7,394.0 456.6,388.8 C462.5,383.6 468.7,378.7 474.3,373.2 C479.9,367.7 485.1,360.9 490.0,355.7 C494.9,350.5 499.2,346.2 503.8,341.9 C508.4,337.6 513.0,334.4 517.6,329.8 C522.2,325.2 526.9,319.5 531.5,314.3 C536.1,309.1 540.7,303.3 545.3,298.7 C549.9,294.1 554.5,290.1 559.1,286.6 C563.7,283.2 568.9,280.1 572.9,278.0 C576.9,275.9 579.0,275.3 583.3,274.3 C587.6,273.3 592.9,273.9 598.5,272.0 C604.1,270.1 610.8,265.6 617.0,262.8 C623.2,260.0 630.0,258.4 635.5,255.4 C641.0,252.3 645.7,248.1 650.3,244.5 C654.9,240.9 658.4,237.3 663.2,234.0 C668.0,230.7 674.2,226.7 679.3,224.5 C684.4,222.3 688.5,222.0 693.8,221.0 C699.1,220.0 705.9,219.9 711.1,218.5 C716.3,217.1 720.1,214.5 724.9,212.5 C729.7,210.5 735.1,207.8 739.8,206.4 C744.5,205.0 748.9,204.1 753.1,204.2 C757.3,204.3 761.0,205.1 765.0,207.1 C769.0,209.1 772.9,213.0 776.8,216.0 C780.7,219.0 783.9,222.2 788.6,224.9 C793.3,227.6 799.8,229.8 805.0,232.3 C810.2,234.8 815.3,238.1 820.0,239.9 C824.7,241.7 828.5,243.0 833.3,243.2 C838.1,243.4 844.0,239.9 848.8,241.0 C853.6,242.1 857.5,246.0 862.2,249.6 C866.9,253.2 872.0,258.6 877.0,262.6 C882.0,266.6 886.4,269.7 891.9,273.7 C897.4,277.7 905.8,283.5 910.0,286.7 C914.2,289.9 913.8,290.1 917.0,293.0 C920.2,295.9 925.2,300.4 929.3,304.1 C933.4,307.8 938.3,312.1 941.7,315.2 C945.1,318.3 948.2,321.5 949.5,322.8" stroke="#00ff00"/>
</g>
</g>

<!-- axes -->
<g stroke="#4d4d4d" stroke-width="1.6" fill="none">
  <path d="M135.05,67.3 V685.05 H948.7"/>
  <path d="M126,136.6 H135 M126,308 H135 M126,479.4 H135 M126,650.8 H135"/>
  <path d="M135.05,685 V693.6 M229.1,685 V693.6 M333,685 V693.6 M434,685 V693.6 M538.1,685 V693.6 M639,685 V693.6 M743.3,685 V693.6 M847.5,685 V693.6 M948.5,685 V693.6"/>
</g>

<!-- tick labels -->
<g transform="translate(69.60,149.20) scale(1.0049,0.9779) translate(-70.00,-149.20) translate(69.60,149.20) scale(1.0049,1.0153) translate(-69.00,-149.20) translate(69.60,149.20) scale(1.0842,1.0114) translate(-72.00,-149.30)"><text x="111" y="149.3" font-size="37" text-anchor="end" fill="#262626">20</text></g>
<g transform="translate(70.80,320.20) scale(1.0154,0.9632) translate(-71.00,-320.20) translate(70.80,320.20) scale(0.9659,1.0000) translate(-70.00,-320.20) translate(70.80,320.20) scale(1.1000,1.0234) translate(-73.00,-320.60)"><text x="111" y="320.6" font-size="37" text-anchor="end" fill="#262626">15</text></g>
<g transform="translate(70.80,491.80) scale(0.9756,0.9851) translate(-70.00,-491.80) translate(70.80,491.80) scale(1.0256,1.0233) translate(-71.00,-491.80) translate(70.80,491.80) scale(1.0811,1.0154) translate(-73.00,-492.00)"><text x="111" y="492" font-size="37" text-anchor="end" fill="#262626">10</text></g>
<g transform="translate(92.40,663.60) scale(0.9778,0.9925) translate(-92.00,-663.60) translate(92.40,663.60) scale(1.0353,0.9925) translate(-93.00,-663.60) translate(92.40,663.60) scale(1.0353,1.0353) translate(-92.00,-663.50)"><text x="111" y="663.5" font-size="37" text-anchor="end" fill="#262626">5</text></g>
<g transform="translate(104.40,739.00) scale(1.0133,1.0000) translate(-105.00,-739.00) translate(104.40,739.00) scale(0.9806,1.0000) translate(-104.00,-739.00) translate(104.40,739.00) scale(1.0667,0.9630) translate(-107.00,-739.00)"><text x="135" y="739" font-size="36" text-anchor="middle" fill="#262626">Feb</text></g>
<g transform="translate(198.00,739.00) scale(0.9922,1.0000) translate(-198.00,-739.00) translate(198.00,739.00) scale(0.9922,1.0000) translate(-198.00,-739.00) translate(198.00,739.00) scale(1.0948,1.0000) translate(-201.00,-739.00)"><text x="229.1" y="739" font-size="36" text-anchor="middle" fill="#262626">Mar</text></g>
<g transform="translate(302.40,739.00) scale(1.0000,0.9630) translate(-302.00,-739.00) translate(302.40,739.00) scale(1.0000,1.0833) translate(-302.00,-739.00) translate(302.40,739.00) scale(1.1273,1.0000) translate(-306.00,-739.00)"><text x="333.2" y="739" font-size="36" text-anchor="middle" fill="#262626">Apr</text></g>
<g transform="translate(399.00,739.00) scale(0.9943,0.9630) translate(-399.00,-739.00) translate(399.00,739.00) scale(1.0087,1.0833) translate(-399.00,-739.00) translate(399.00,739.00) scale(1.0708,1.0000) translate(-403.00,-739.00)"><text x="434" y="739" font-size="36" text-anchor="middle" fill="#262626">May</text></g>
<g transform="translate(508.40,739.00) scale(1.0036,0.9630) translate(-509.00,-739.00) translate(508.40,739.00) scale(1.0036,1.0833) translate(-508.00,-739.00) translate(508.40,739.00) scale(1.0036,1.0000) translate(-510.00,-739.00)"><text x="538.2" y="739" font-size="36" text-anchor="middle" fill="#262626">Jun</text></g>
<g transform="translate(616.00,739.00) scale(1.0000,1.0000) translate(-616.00,-739.00) translate(616.00,739.00) scale(1.0000,1.0000) translate(-616.00,-739.00) translate(616.00,739.00) scale(0.9767,0.9630) translate(-617.00,-739.00)"><text x="639" y="739" font-size="36" text-anchor="middle" fill="#262626">Jul</text></g>
<g transform="translate(708.40,739.00) scale(0.9940,0.9630) translate(-708.00,-739.00) translate(708.40,739.00) scale(0.9940,1.0833) translate(-708.00,-739.00) translate(708.40,739.00) scale(1.0918,1.0000) translate(-712.00,-739.00)"><text x="743.2" y="739" font-size="36" text-anchor="middle" fill="#262626">Aug</text></g>
<g transform="translate(815.50,739.00) scale(0.9923,0.9630) translate(-815.00,-739.00) translate(815.50,739.00) scale(1.0078,1.0833) translate(-816.00,-739.00) translate(815.50,739.00) scale(1.0574,1.0000) translate(-817.00,-739.00)"><text x="847.3" y="739" font-size="36" text-anchor="middle" fill="#262626">Sep</text></g>
<g transform="translate(919.00,739.00) scale(1.0000,1.0000) translate(-919.00,-739.00) translate(919.00,739.00) scale(1.0000,1.0000) translate(-919.00,-739.00) translate(919.00,739.00) scale(1.1111,1.0000) translate(-922.00,-739.00)"><text x="948.1" y="739" font-size="36" text-anchor="middle" fill="#262626">Oct</text></g>
<g transform="translate(442.10,788.60) scale(1.0000,1.0245) translate(-442.00,-788.60) translate(442.10,788.60) scale(1.0000,0.9575) translate(-442.00,-788.60) translate(442.10,788.60) scale(1.0879,1.0616) translate(-450.00,-788.60)"><text x="541" y="788.6" font-size="41" text-anchor="middle" fill="#262626">Year 2018</text></g>
<!-- ylabel -->
<g transform="translate(51.60,81.60) scale(0.9967,1.0007) translate(-51.60,-82.00) translate(51.60,81.60) scale(0.9967,0.9990) translate(-51.60,-81.00) translate(21.10,81.60) scale(1.0664,1.0544) translate(-23.00,-97.00)"><text transform="translate(51.6,376) rotate(-90)" font-size="42" fill="#262626" text-anchor="middle">Sea Surface Temperature <tspan fill="none">(°C)</tspan></text></g>
<path d="M20,124.95 H25 A5.3,5.3 0 0 1 25,135.55 H20" fill="none" stroke="#262626" stroke-width="2.6"/>
<path d="M21,88.8 Q38.4,77.6 55.8,88.8 M21,144.6 Q38.4,155.8 55.8,144.6" fill="none" stroke="#262626" stroke-width="3.3"/>
<g transform="translate(21.00,93.90) scale(1.0448,0.9000) translate(-23.00,-89.00)"><text x="0" y="0" transform="translate(51.6,117) rotate(-90)" font-size="42" fill="#262626" stroke="#262626" stroke-width="0.5">C</text></g>
<!-- legend -->
<rect x="637.6" y="492" width="286.8" height="168.3" fill="#fff" stroke="#262626" stroke-width="1.5"/>
<g stroke-width="7.6">
  <line x1="645.6" y1="515.1" x2="720.2" y2="515.1" stroke="#0000ff"/>
  <line x1="645.6" y1="556.3" x2="720.2" y2="556.3" stroke="#ff0000"/>
  <line x1="645.6" y1="596.3" x2="720.2" y2="596.3" stroke="#000000"/>
  <line x1="645.6" y1="637.3" x2="720.2" y2="637.3" stroke="#00ff00"/>
</g>
<g transform="translate(728.80,525.80) scale(1.0057,1.0132) translate(-729.00,-525.80) translate(728.80,525.80) scale(0.9943,1.0132) translate(-729.00,-525.80) translate(728.80,525.80) scale(1.0802,1.0500) translate(-730.00,-526.00)"><text x="727.5" y="526" font-size="32" fill="#000">Run 1</text></g>
<g transform="translate(728.80,566.70) scale(1.0011,0.9873) translate(-729.00,-566.70) translate(728.80,566.70) scale(1.0011,1.0308) translate(-729.00,-566.70) translate(728.80,566.70) scale(1.0753,1.0636) translate(-730.00,-567.00)"><text x="727.5" y="567" font-size="32" fill="#000">Run 2</text></g>
<g transform="translate(728.80,606.70) scale(0.9977,0.9831) translate(-729.00,-606.70) translate(728.80,606.70) scale(0.9977,1.0264) translate(-729.00,-606.70) translate(728.80,606.70) scale(1.0840,1.0591) translate(-730.00,-607.00)"><text x="727.5" y="607" font-size="32" fill="#000">Run 3</text></g>
<g transform="translate(727.30,647.50) scale(1.0048,0.9837) translate(-728.00,-647.50) translate(727.30,647.50) scale(0.9941,0.9837) translate(-727.00,-647.50) translate(727.30,647.50) scale(1.1327,1.0478) translate(-729.00,-648.00)"><text x="727.5" y="648" font-size="32" fill="#000">Climatology</text></g>
</svg>
</body></html>
